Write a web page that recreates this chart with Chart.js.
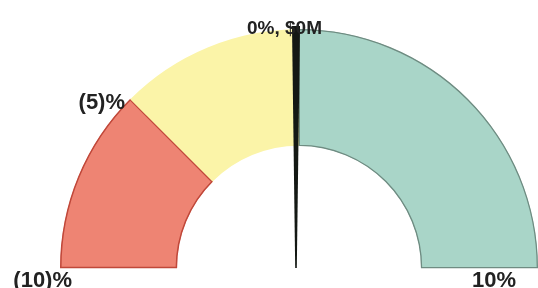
<!DOCTYPE html>
<html><head><meta charset="utf-8">
<script src="https://cdn.jsdelivr.net/npm/chart.js@4"></script>
<style>html,body{margin:0;padding:0;background:#fff}#wrap{width:538px;height:288px}</style>
</head><body><div id="wrap"><canvas id="c"></canvas></div>
<script>
const bandLabels = ['(10)% to (5)%', '(5)% to 0%', '0% to 10%'];
const bandStarts = [-10, -5, 0];
const bandEnds = [-5, 0, 10];
const gaugeMin = -10, gaugeMax = 10;
const needleValue = 0;
const needleText = '0%, $0M';
const tickValues = [-10, -5, 10];
const tickLabels = ['(10)%', '(5)%', '10%'];

const bandSizes = bandStarts.map((s, i) => bandEnds[i] - s);

function angleFor(v) {
  return Math.PI + (v - gaugeMin) / (gaugeMax - gaugeMin) * Math.PI;
}

const overlay = {
  id: 'overlay',
  afterDatasetsDraw(chart) {
    const arc = chart.getDatasetMeta(0).data[0];
    const cx = arc.x, cy = arc.y, R = arc.outerRadius;
    const ctx = chart.ctx;
    ctx.save();
    // needle
    const a = angleFor(needleValue);
    const tipX = cx - 3 + Math.cos(a) * (R + 3), tipY = cy + Math.sin(a) * (R + 3);
    const px = -Math.sin(a), py = Math.cos(a);
    ctx.beginPath();
    ctx.moveTo(cx - 3 - px * 0.8, cy - py * 0.8);
    ctx.lineTo(tipX - px * 4, tipY - py * 4);
    ctx.lineTo(tipX + px * 4, tipY + py * 4);
    ctx.lineTo(cx - 3 + px * 0.8, cy + py * 0.8);
    ctx.closePath();
    ctx.fillStyle = '#141814';
    ctx.fill();
    // labels
    ctx.fillStyle = '#222';
    ctx.textBaseline = 'alphabetic';
    ctx.font = 'bold 19px "Liberation Sans", Arial, sans-serif';
    ctx.textAlign = 'center';
    ctx.fillText(needleText, cx - 14.5, cy - R + 5);
    ctx.font = 'bold 22px "Liberation Sans", Arial, sans-serif';
    tickValues.forEach((v, i) => {
      const ang = angleFor(v);
      const x = cx + Math.cos(ang) * R, y = cy + Math.sin(ang) * R;
      ctx.textAlign = 'right';
      if (v === gaugeMin) {
        ctx.fillText(tickLabels[i], x + 12, cy + 19);
      } else if (v === gaugeMax) {
        ctx.fillText(tickLabels[i], x - 22, cy + 19);
      } else {
        ctx.fillText(tickLabels[i], x - 5, y + 10);
      }
    });
    ctx.restore();
  }
};

new Chart(document.getElementById('c'), {
  type: 'doughnut',
  data: {
    labels: bandLabels,
    datasets: [{
      data: bandSizes,
      backgroundColor: ['#EE8473', '#FBF4A8', '#A9D5C8'],
      borderColor: ['#C0483A', '#F5EDA0', '#6F8C82'],
      borderWidth: [1.2, 0, 1],
      borderAlign: 'inner'
    }]
  },
  options: {
    responsive: true,
    maintainAspectRatio: false,
    animation: false,
    rotation: -90,
    circumference: 180,
    cutout: '51%',
    layout: { padding: { left: 60, right: 0, top: 29, bottom: 20 } },
    plugins: { legend: { display: false }, tooltip: { enabled: false } }
  },
  plugins: [overlay]
});
</script></body></html>
